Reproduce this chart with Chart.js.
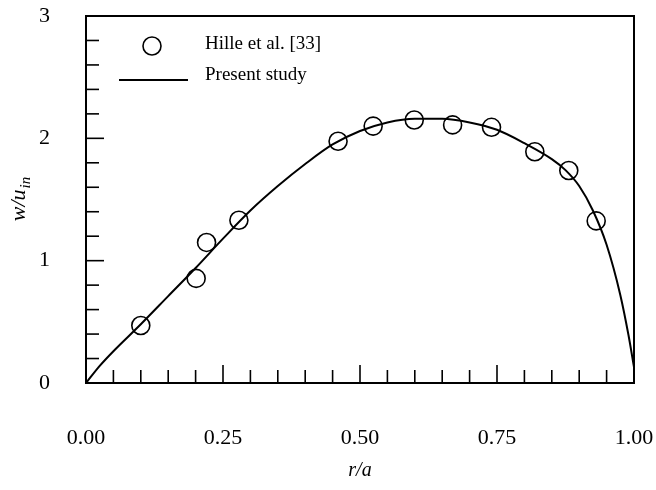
<!DOCTYPE html>
<html><head><meta charset="utf-8">
<script src="https://cdn.jsdelivr.net/npm/chart.js@4"></script>
<style>html,body{margin:0;padding:0;background:#fff;}#wrap{width:656px;height:490px;}</style>
</head><body><div id="wrap"><canvas id="c" width="656" height="490"></canvas></div>
<script>
// Data
const hilleR = [0.100, 0.201, 0.220, 0.279, 0.460, 0.524, 0.599, 0.669, 0.740, 0.819, 0.881, 0.931];
const hilleU = [0.47, 0.855, 1.149, 1.33, 1.976, 2.10, 2.15, 2.11, 2.09, 1.89, 1.737, 1.325];
const studyR = [0, 0.025, 0.05, 0.1, 0.15, 0.2, 0.25, 0.3, 0.35, 0.4, 0.45, 0.5, 0.55, 0.6, 0.65, 0.7, 0.75, 0.8, 0.85, 0.875, 0.9, 0.925, 0.95, 0.975, 0.99, 1.0];
const studyU = [0, 0.14, 0.26, 0.48, 0.71, 0.94, 1.18, 1.41, 1.61, 1.79, 1.95, 2.06, 2.13, 2.16, 2.16, 2.13, 2.07, 1.96, 1.83, 1.74, 1.61, 1.41, 1.13, 0.72, 0.39, 0.13];
const xTicks = [0, 0.25, 0.5, 0.75, 1.0];
const yTicks = [0, 1, 2, 3];
const seriesNames = ['Hille et al. [33]', 'Present study'];
const xTitle = 'r/a';
const yTitleMain = 'w/u';
const yTitleSub = 'in';

const SERIF = '"Liberation Serif", "DejaVu Serif", serif';

const framePlugin = {
  id: 'frame',
  afterDraw(chart) {
    const {ctx, chartArea: a, scales: {x, y}} = chart;
    ctx.save();
    ctx.strokeStyle = '#000';
    // inward ticks
    ctx.lineWidth = 1.6;
    for (let i = 1; i < 20; i++) {
      const v = i * 0.05;
      const px = x.getPixelForValue(v);
      const len = (i % 5 === 0) ? 18 : 13;
      ctx.beginPath(); ctx.moveTo(px, a.bottom); ctx.lineTo(px, a.bottom - len); ctx.stroke();
    }
    for (let i = 1; i < 15; i++) {
      const v = i * 0.2;
      const py = y.getPixelForValue(v);
      const len = (i % 5 === 0) ? 18 : 13;
      ctx.beginPath(); ctx.moveTo(a.left, py); ctx.lineTo(a.left + len, py); ctx.stroke();
    }
    // frame
    ctx.lineWidth = 2;
    ctx.strokeRect(a.left, a.top, a.right - a.left, a.bottom - a.top);
    // legend
    const lx = a.left + 66, ly1 = a.top + 30, ly2 = a.top + 59;
    ctx.lineWidth = 1.6;
    ctx.beginPath(); ctx.arc(lx, ly1, 9, 0, Math.PI * 2); ctx.stroke();
    ctx.lineWidth = 2;
    ctx.beginPath(); ctx.moveTo(a.left + 33, ly2 + 5); ctx.lineTo(a.left + 102, ly2 + 5); ctx.stroke();
    ctx.fillStyle = '#000';
    ctx.font = '19px ' + SERIF;
    ctx.textBaseline = 'middle';
    ctx.textAlign = 'left';
    ctx.fillText(chart.data.datasets[0].label, a.left + 119, ly1 - 2);
    ctx.fillText(chart.data.datasets[1].label, a.left + 119, ly2);
    // y title
    const cy = (a.top + a.bottom) / 2;
    ctx.translate(25, cy);
    ctx.rotate(-Math.PI / 2);
    ctx.textBaseline = 'alphabetic';
    ctx.font = 'italic 22px ' + SERIF;
    const w1 = ctx.measureText(yTitleMain).width;
    ctx.font = 'italic 15px ' + SERIF;
    const w2 = ctx.measureText(yTitleSub).width;
    const start = -(w1 + w2) / 2;
    ctx.font = 'italic 22px ' + SERIF;
    ctx.fillText(yTitleMain, start, 0);
    ctx.font = 'italic 15px ' + SERIF;
    ctx.fillText(yTitleSub, start + w1 + 1, 5);
    ctx.restore();
  }
};

function noPad(s) { s.paddingTop = 0; s.paddingBottom = 0; s.paddingLeft = 0; s.paddingRight = 0; }

new Chart(document.getElementById('c'), {
  type: 'scatter',
  data: {
    datasets: [
      {
        label: seriesNames[0],
        data: hilleR.map((r, i) => ({x: r, y: hilleU[i]})),
        showLine: false,
        pointStyle: 'circle',
        pointRadius: 9,
        pointBorderWidth: 1.6,
        borderColor: '#000',
        backgroundColor: 'rgba(0,0,0,0)',
        order: 0
      },
      {
        label: seriesNames[1],
        data: studyR.map((r, i) => ({x: r, y: studyU[i]})),
        showLine: true,
        pointRadius: 0,
        borderColor: '#000',
        borderWidth: 2,
        cubicInterpolationMode: 'monotone',
        fill: false,
        order: 1
      }
    ]
  },
  options: {
    responsive: false,
    animation: false,
    layout: {padding: {top: 16, right: 22, left: 0, bottom: 0}},
    plugins: {legend: {display: false}, tooltip: {enabled: false}},
    scales: {
      x: {
        type: 'linear', min: 0, max: 1,
        afterBuildTicks(s) { s.ticks = xTicks.map(v => ({value: v})); },
        afterFit(s) { s.height = 107; noPad(s); },
        grid: {display: false, drawTicks: false},
        border: {display: false},
        ticks: {
          padding: 42, color: '#000',
          font: {family: SERIF, size: 22},
          callback: v => Number(v).toFixed(2),
          maxRotation: 0, autoSkip: false
        },
        title: {display: true, text: xTitle, color: '#000', font: {family: SERIF, size: 20, style: 'italic'}, padding: {top: 0, bottom: 7}}
      },
      y: {
        type: 'linear', min: 0, max: 3,
        afterBuildTicks(s) { s.ticks = yTicks.map(v => ({value: v})); },
        afterFit(s) { s.width = 86; noPad(s); },
        grid: {display: false, drawTicks: false},
        border: {display: false},
        ticks: {
          padding: 36, color: '#000',
          font: {family: SERIF, size: 22},
          callback: v => String(v),
          autoSkip: false
        }
      }
    }
  },
  plugins: [framePlugin]
});
</script>
</body></html>
